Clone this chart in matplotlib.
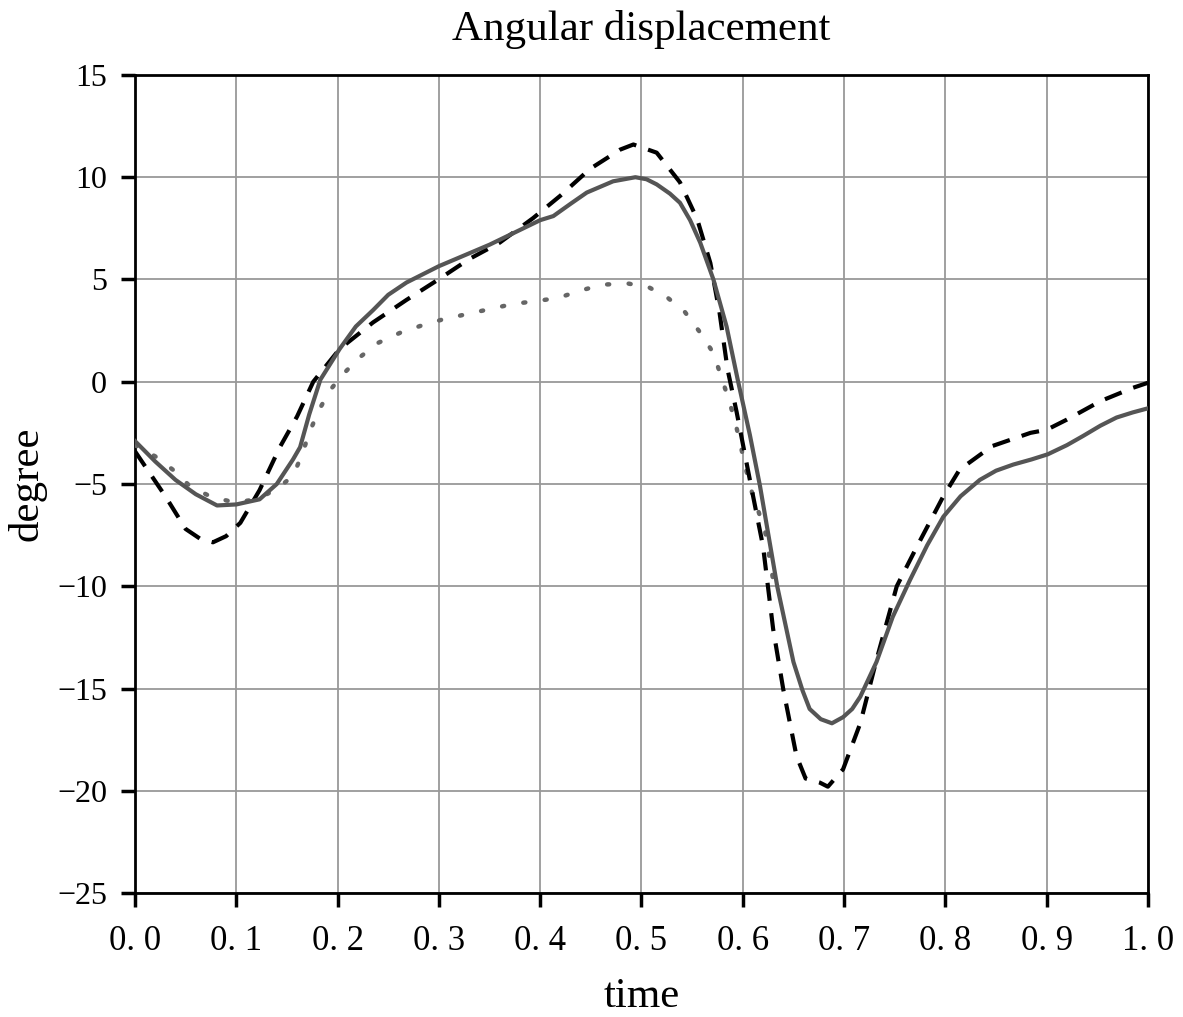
import numpy as np
import matplotlib
matplotlib.use('Agg')
import matplotlib.pyplot as plt

# values
t_solid = [0.0, 0.02, 0.04, 0.06, 0.081, 0.10, 0.123, 0.14, 0.156, 0.163, 0.172, 0.183, 0.202, 0.218, 0.235,
           0.25, 0.268, 0.30, 0.35, 0.40, 0.413, 0.43, 0.446, 0.472, 0.494, 0.505, 0.515, 0.528, 0.538,
           0.548, 0.558, 0.571, 0.584, 0.595, 0.607, 0.617, 0.634, 0.65, 0.659, 0.666, 0.677, 0.688,
           0.699, 0.708, 0.716, 0.732, 0.748, 0.765, 0.782, 0.798, 0.815, 0.834, 0.85,
           0.867, 0.885, 0.901, 0.92, 0.936, 0.953, 0.969, 0.985, 1.0]
v_solid = [-2.9, -3.9, -4.8, -5.5, -6.05, -6.0, -5.75, -5.0, -3.8, -3.2, -1.6, 0.1, 1.6, 2.7, 3.5,
           4.25, 4.85, 5.65, 6.7, 7.9, 8.1, 8.7, 9.25, 9.8, 10.0, 9.9, 9.65, 9.2, 8.75,
           7.9, 6.8, 5.0, 2.7, 0.1, -2.6, -5.1, -10.0, -13.7, -15.1, -16.0, -16.5, -16.7,
           -16.4, -16.0, -15.4, -13.7, -11.5, -9.7, -8.0, -6.6, -5.6, -4.8, -4.35,
           -4.05, -3.8, -3.55, -3.1, -2.65, -2.15, -1.75, -1.5, -1.3]

t_dash = [0.0, 0.03, 0.05, 0.065, 0.077, 0.09, 0.104, 0.123, 0.143, 0.16, 0.176, 0.202, 0.235, 0.268,
          0.298, 0.33, 0.36, 0.393, 0.42, 0.449, 0.479, 0.492, 0.515, 0.538, 0.555, 0.568,
          0.577, 0.585, 0.594, 0.607, 0.62, 0.63, 0.64, 0.653, 0.662, 0.676, 0.684, 0.699, 0.716,
          0.732, 0.752, 0.772, 0.798, 0.814, 0.846, 0.884, 0.90, 0.92, 0.953, 0.985, 1.0]
v_dash = [-3.4, -5.6, -7.2, -7.7, -7.85, -7.55, -6.9, -5.3, -3.2, -1.7, 0.0, 1.6, 2.9, 4.0,
          4.95, 6.0, 6.8, 8.0, 9.1, 10.4, 11.35, 11.6, 11.2, 9.75, 7.95, 5.8,
          3.4, 0.6, -1.5, -4.8, -8.05, -12.1, -15.05, -18.3, -19.4, -19.6, -19.8, -18.95, -16.7,
          -13.6, -10.0, -8.05, -5.6, -4.3, -3.15, -2.5, -2.35, -1.85, -0.95, -0.3, -0.05]

t_dot = [0.0, 0.02, 0.04, 0.054, 0.076, 0.099, 0.12, 0.14, 0.156, 0.165, 0.172, 0.181, 0.192,
         0.205, 0.222, 0.24, 0.262, 0.283, 0.304, 0.327, 0.35, 0.373, 0.397, 0.418, 0.439,
         0.462, 0.487, 0.508, 0.526, 0.543, 0.558, 0.571, 0.578, 0.585, 0.592, 0.607, 0.622, 0.63]
v_dot = [-3.1, -3.65, -4.4, -5.1, -5.65, -5.9, -5.75, -5.25, -4.6, -3.55, -2.5, -1.45, -0.45,
         0.35, 1.2, 1.9, 2.4, 2.75, 3.05, 3.3, 3.55, 3.8, 3.95, 4.1, 4.45,
         4.75, 4.8, 4.6, 4.1, 3.4, 2.4, 1.4, 0.35, -0.7, -1.85, -5.1, -7.3, -9.7]

x_ticks = [0.0, 0.1, 0.2, 0.3, 0.4, 0.5, 0.6, 0.7, 0.8, 0.9, 1.0]
x_labels = ['0. 0', '0. 1', '0. 2', '0. 3', '0. 4', '0. 5', '0. 6', '0. 7', '0. 8', '0. 9', '1. 0']
y_ticks = [-25, -20, -15, -10, -5, 0, 5, 10, 15]

plt.rcParams['font.family'] = ['Liberation Serif', 'DejaVu Serif']
plt.rcParams['lines.scale_dashes'] = False

fig = plt.figure(figsize=(11.83, 10.17), dpi=100)
ax = fig.add_axes([0.1141, 0.1219, 0.8563, 0.8044])

ax.plot(t_dot, v_dot, color='#666666', lw=3.2, dashes=(1.5, 14), dash_capstyle='round', zorder=3)
ax.plot(t_dash, v_dash, color='black', lw=3, dashes=(13, 9), zorder=4)
ax.plot(t_solid, v_solid, color='#555555', lw=3, zorder=5)

ax.set_xlim(0, 1)
ax.set_ylim(-25, 15)
ax.set_xticks(x_ticks)
ax.set_xticklabels(x_labels)
ax.set_yticks(y_ticks)
ax.set_yticklabels([str(v).replace('-', '\u2212') for v in y_ticks])
ax.grid(True, color='#999999', lw=1.3)
ax.set_axisbelow(True)

for s in ax.spines.values():
    s.set_linewidth(2)
    s.set_color('black')
ax.tick_params(direction='out', length=10, width=2.5, pad=10)
ax.tick_params(axis='x', labelsize=25, pad=13)
ax.tick_params(axis='y', labelsize=23)

ax.set_title('Angular displacement', fontsize=31, pad=25)
ax.set_xlabel('time', fontsize=31, labelpad=14)
ax.set_ylabel('degree', fontsize=31, labelpad=8)

plt.savefig('out.png', dpi=100)
